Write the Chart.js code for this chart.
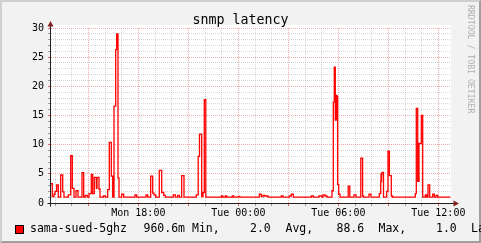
<!DOCTYPE html>
<html><head><meta charset="utf-8">
<script src="https://cdn.jsdelivr.net/npm/chart.js@4.4.1/dist/chart.umd.min.js"></script>
<style>
html,body{margin:0;padding:0;background:#F2F2F2;overflow:hidden;}
#wrap{position:relative;width:481px;height:243px;overflow:hidden;background:#F2F2F2;}
#frame{position:absolute;left:0;top:0;width:481px;height:243px;box-sizing:border-box;border-top:2px solid #CFCFCF;border-left:2px solid #CFCFCF;border-right:2px solid #9E9E9E;border-bottom:2px solid #9E9E9E;pointer-events:none;}
canvas{position:absolute;left:0;top:0;}
.t{position:absolute;font-family:"DejaVu Sans Mono",monospace;white-space:pre;line-height:1;color:#000;}
#box{position:absolute;left:15px;top:225px;width:9px;height:9px;box-sizing:border-box;border:1px solid #000;background:#FF0000;}
#wm{writing-mode:vertical-rl;font-size:8.2px;color:#B0B0B0;left:467px;top:5px;}
.lg{font-size:11.5px;top:223px;}
</style></head><body>
<div id="wrap">
<div id="frame"></div>
<canvas id="c" width="481" height="243"></canvas>
<div class="t" style="left:0;width:481px;text-align:center;top:12.5px;font-size:13.3px">snmp latency</div>
<div class="t" id="wm">RRDTOOL / TOBI OETIKER</div>
<div id="box"></div>
<div id="legend"></div>
</div>
<script>
// ---- data (hours since Mon 00:00, snmp latency value) ----
const viewStart = 12.76;   // Mon 12:46
const viewEnd = 36.76;     // Tue 12:46
const times = [
 12.760,12.838,12.940,13.000,13.102,13.198,13.342,13.462,13.540,13.798,
 13.942,14.038,14.140,14.260,14.380,14.620,14.722,14.818,14.938,15.040,
 15.178,15.262,15.358,15.478,15.520,15.640,15.700,15.898,16.018,16.162,
 16.258,16.378,16.462,16.540,16.642,16.702,16.780,16.840,17.002,17.122,
 17.800,17.902,18.460,18.562,18.742,18.862,18.940,19.042,19.258,19.402,
 19.522,19.618,20.098,20.218,20.362,20.458,20.602,20.740,21.478,21.592,
 21.670,21.802,21.880,21.958,22.048,22.990,23.068,23.218,23.302,23.638,
 23.728,23.980,24.082,25.258,25.378,25.480,25.582,25.780,26.578,26.680,
 27.058,27.178,27.298,28.378,28.498,28.840,29.020,29.080,29.200,29.320,
 29.620,29.698,29.758,29.818,29.836,29.854,29.872,29.890,29.908,29.926,
 29.944,29.956,30.022,30.100,30.592,30.688,30.940,31.060,31.348,31.456,
 31.510,31.840,31.960,32.458,32.542,32.560,32.578,32.596,32.620,32.710,
 32.902,32.980,33.064,33.178,33.250,34.618,34.678,34.762,34.840,34.978,
 35.062,35.218,35.302,35.380,35.482,35.662,35.758,35.860,35.962,36.730
];
const latency = [
 3.3,1.1,1.5,2.0,3.1,1.0,4.8,1.9,1.0,1.4,
 8.1,2.5,1.0,2.1,1.0,5.2,1.0,1.3,1.0,1.6,
 4.9,1.6,4.4,2.5,4.4,2.4,1.0,1.2,1.0,2.3,
 10.4,4.6,1.0,16.6,26.3,29.0,4.3,1.0,1.5,1.0,
 1.4,1.0,1.4,1.0,4.6,1.7,1.4,1.0,5.6,1.8,
 1.3,1.0,1.4,1.0,1.3,1.0,4.7,1.0,1.4,8.0,
 11.8,1.1,1.8,17.7,1.0,1.2,1.0,1.2,1.0,1.2,
 1.0,1.15,1.0,1.5,1.1,1.3,1.2,1.0,1.2,1.0,
 1.2,1.5,1.0,1.2,1.0,1.2,1.0,1.4,1.2,1.0,
 2.1,17.3,23.3,14.2,18.5,14.6,18.3,14.2,18.4,14.5,
 18.2,3.2,1.5,1.0,2.9,1.0,1.4,1.0,7.7,1.2,
 1.0,1.5,1.0,1.6,3.6,5.0,3.7,4.9,5.25,1.0,
 2.0,8.9,4.7,1.2,1.0,1.6,16.2,3.7,10.2,15.0,
 1.0,1.4,1.0,3.1,1.0,1.5,1.0,1.3,1.0,1.0
];
const hourTicks = [13,14,15,16,17,18,19,20,21,22,23,24,25,26,27,28,29,30,31,32,33,34,35,36];
const labelHours = [18,24,30,36];
const labelTexts = ['Mon 18:00','Tue 00:00','Tue 06:00','Tue 12:00'];
const yTicks = [0,1,2,3,4,5,6,7,8,9,10,11,12,13,14,15,16,17,18,19,20,21,22,23,24,25,26,27,28,29,30];
const seriesName = 'sama-sued-5ghz';
const legendParts = [
 ['sama-sued-5ghz',30],['960.6m',143.5],['Min,',192],['2.0',250],['Avg,',285.5],
 ['88.6',336.5],['Max,',378.5],['1.0',436],['Last',471]
];

// legend text
const lg = document.getElementById('legend');
legendParts.forEach(([txt,x])=>{
  const s=document.createElement('div'); s.className='t lg'; s.textContent=txt; s.style.left=x+'px'; lg.appendChild(s);
});

const MAJOR='rgba(226,90,90,0.5)', MINOR='rgba(150,150,150,0.38)';
const MAJOR_T='rgba(210,70,70,0.8)', MINOR_T='rgba(120,120,120,0.7)';
const font={family:'"DejaVu Sans Mono", monospace',size:10};

const rrdPlugin={
  id:'rrd',
  beforeDraw(chart){
    const {ctx,chartArea:a}=chart;
    ctx.save(); ctx.fillStyle='#FFFFFF';
    ctx.fillRect(a.left,a.top-3,a.right-a.left,a.bottom-a.top+3); ctx.restore();
  },
  afterDraw(chart){
    const {ctx,chartArea:a}=chart;
    const x0=Math.round(a.left)-0.5, y0=Math.round(a.bottom)+0.5;
    ctx.save();
    ctx.strokeStyle='#1F1F1F'; ctx.lineWidth=1;
    ctx.beginPath(); ctx.moveTo(x0,y0+3); ctx.lineTo(x0,a.top-5); ctx.stroke();
    ctx.beginPath(); ctx.moveTo(x0-3,y0); ctx.lineTo(a.right+4,y0); ctx.stroke();
    ctx.fillStyle='#7F1F1F';
    ctx.beginPath(); ctx.moveTo(x0,a.top-7); ctx.lineTo(x0-3,a.top-1.5); ctx.lineTo(x0+3,a.top-1.5); ctx.closePath(); ctx.fill();
    ctx.beginPath(); ctx.moveTo(a.right+8,y0); ctx.lineTo(a.right+2.5,y0-3); ctx.lineTo(a.right+2.5,y0+3); ctx.closePath(); ctx.fill();
    ctx.restore();
  }
};

new Chart(document.getElementById('c'),{
  type:'line',
  data:{datasets:[{
    label:seriesName,
    data:times.map((t,i)=>({x:t,y:latency[i]})),
    borderColor:'#FF0000',borderWidth:1.3,pointRadius:0,stepped:true,fill:false,tension:0
  }]},
  options:{
    responsive:false,animation:false,devicePixelRatio:1,
    layout:{padding:{left:0,top:28,right:30,bottom:20}},
    plugins:{legend:{display:false},tooltip:{enabled:false},title:{display:false}},
    scales:{
      x:{type:'linear',min:viewStart,max:viewEnd,
        afterBuildTicks:s=>{s.ticks=hourTicks.map(v=>({value:v}));},
        afterFit:s=>{s.height=20;},
        border:{display:false,dash:[1,1]},
        grid:{lineWidth:1,tickLength:3,
          color:c=>(c.tick&&c.tick.value%3===0)?MAJOR:MINOR,
          tickColor:c=>(c.tick&&c.tick.value%3===0)?MAJOR_T:MINOR_T},
        ticks:{autoSkip:false,maxRotation:0,minRotation:0,padding:1,color:'#000',font:font,
          callback:v=>{const i=labelHours.indexOf(v);return i>=0?labelTexts[i]:'';}}
      },
      y:{type:'linear',min:0,max:30,
        afterBuildTicks:s=>{s.ticks=yTicks.map(v=>({value:v}));},
        afterFit:s=>{s.width=51;},
        border:{display:false,dash:[1,1]},
        grid:{lineWidth:1,tickLength:3,
          color:c=>(c.tick&&c.tick.value%5===0)?MAJOR:MINOR,
          tickColor:c=>(c.tick&&c.tick.value%5===0)?MAJOR_T:MINOR_T},
        ticks:{autoSkip:false,padding:4,color:'#000',font:font,
          callback:v=>(v%5===0?String(v):'')}
      }
    }
  },
  plugins:[rrdPlugin]
});
</script>
</body></html>
